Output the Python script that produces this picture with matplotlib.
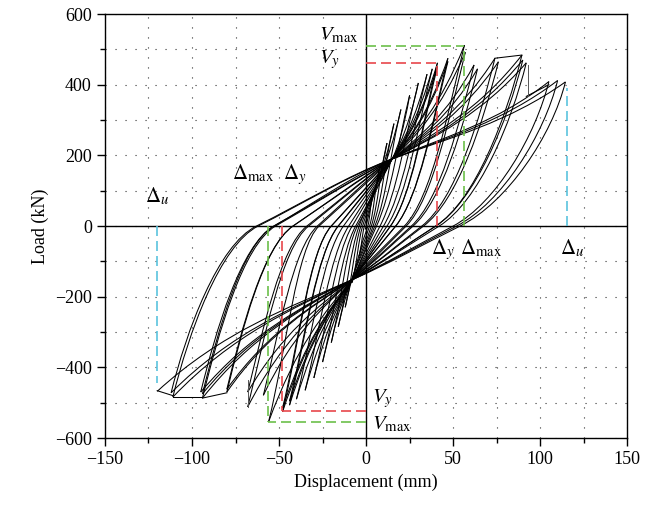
import numpy as np
import matplotlib
matplotlib.use("Agg")
import matplotlib.pyplot as plt
from matplotlib.path import Path
from matplotlib.patches import PathPatch
from matplotlib.ticker import MultipleLocator

plt.rcParams["font.family"] = ["Liberation Serif", "DejaVu Serif"]
plt.rcParams["mathtext.fontset"] = "stix"
plt.rcParams["font.size"] = 13

# one entry per loading cycle: positive peak, negative peak (mm, kN)
pos_disp = [4, 8, 12, 16, 20, 25, 30, 35, 38, 41, 41, 47, 47, 56.5, 57, 62, 64, 74, 76, 89.5, 90, 92, 105, 110, 114.5]
pos_load = [95, 170, 235, 290, 330, 370, 405, 430, 445, 462, 452, 475, 466, 512, 492, 456, 445, 475, 465, 484, 470, 462, 409, 412, 408]
neg_disp = [-4, -8, -12, -16, -20, -25, -30, -35, -40, -44, -44, -48, -48, -56, -59, -68, -68, -80, -80, -94, -94, -95, -111, -112, -120]
neg_load = [-85, -160, -230, -285, -330, -385, -430, -465, -490, -507, -496, -526, -515, -554, -479, -512, -470, -470, -462, -487, -475, -470, -484, -472, -468]
# displacement where each unloading branch crosses zero load
desc_zero = [1, 2, 3, 4, 5, 6, 8, 10, 12, 14, 14, 17, 17, 22, 23, 26, 27, 32, 33, 40, 40, 42, 50, 52, 54]
asc_zero = [-1, -2, -3, -4, -5, -6, -8, -10, -13, -16, -16, -20, -20, -27, -28, -33, -34, -42, -42, -52, -53, -53, -62, -63, -68]

# pinching points where the reloading branches converge
pinch_up = (15, 190)
pinch_lo = (-8, -152)

# sudden load drops seen in the record
drop_x = [93, -68]
drop_from = [456, -512]
drop_to = [367, -437]

# short stretches running along the envelope between successive peaks
env_x0 = [74, 92, -80, -94, -111]
env_y0 = [475, 367, -472, -484, -480]
env_x1 = [89.5, 105, -94, -111, -120]
env_y1 = [484, 400, -487, -484, -466]

# characteristic points
vy_pos, vmax_pos, du_pos = (41, 462), (56.5, 510), (115.5, 390)
vy_neg, vmax_neg, du_neg = (-48.5, -524), (-56.3, -554), (-120, -443)

K_UNLOAD = 20.0


def slope(a, b):
    return (b[1] - a[1]) / (b[0] - a[0])


def branch_path(S, Z, P, E):
    """Unloading arc S->Z, then reloading through the pinch P (if any) to E."""
    nxt = P if P is not None else E
    kz = slope(Z, nxt)
    dy = Z[1] - S[1]
    verts = [S, (S[0] + 0.37 * dy / K_UNLOAD, S[1] + 0.37 * dy)]
    hx = 0.45 * (Z[0] - S[0])
    verts += [(Z[0] - hx, Z[1] - hx * kz), Z]
    prev, kprev = Z, kz
    if P is not None:
        kp = 0.8 * slope(Z, E)
        h = (P[0] - Z[0]) / 3
        verts += [(Z[0] + h, Z[1] + h * kz), (P[0] - h, P[1] - h * kp), P]
        prev, kprev = P, kp
    ke = 1.6 * slope(prev, E)
    h = (E[0] - prev[0]) / 3
    verts += [(prev[0] + h, prev[1] + h * kprev), (E[0] - h, E[1] - h * ke), E]
    codes = [Path.MOVETO] + [Path.CURVE4] * (len(verts) - 1)
    return Path(verts, codes)


fig = plt.figure(figsize=(6.52, 5.12), dpi=100)
ax = fig.add_axes([0.161, 0.1445, 0.801, 0.828])

loop_style = dict(fill=False, ec="black", lw=0.75, zorder=2)
prev_neg, prev_zero = (-0.5, -10), 0.0
for i in range(len(pos_disp)):
    pos = (pos_disp[i], pos_load[i])
    neg = (neg_disp[i], neg_load[i])

    # reloading towards the positive peak
    Z = (prev_zero, 0)
    P = pinch_up if (Z[0] < pinch_up[0] and pos[0] > pinch_up[0] + 8) else None
    ax.add_patch(PathPatch(branch_path(prev_neg, Z, P, pos), **loop_style))

    # unloading towards the negative peak
    Z = (desc_zero[i], 0)
    P = pinch_lo if (Z[0] > pinch_lo[0] and neg[0] < pinch_lo[0] - 8) else None
    ax.add_patch(PathPatch(branch_path(pos, Z, P, neg), **loop_style))

    prev_neg, prev_zero = neg, asc_zero[i]

for x0, y0, x1, y1 in zip(env_x0, env_y0, env_x1, env_y1):
    ax.plot([x0, x1], [y0, y1], color="black", lw=0.75, zorder=2)
for x, a, b in zip(drop_x, drop_from, drop_to):
    ax.plot([x, x], [a, b], color="#555555", lw=0.7, zorder=2)

dash = dict(lw=1.2, dashes=(6, 3), zorder=3)
red, green, cyan = "#e8474c", "#6cc04a", "#5bc4de"
for (x, y), c in [(vy_pos, red), (vmax_pos, green), (vy_neg, red), (vmax_neg, green)]:
    ax.plot([x, x], [0, y], color=c, **dash)
    ax.plot([0, x], [y, y], color=c, **dash)
for (x, y) in [du_pos, du_neg]:
    ax.plot([x, x], [0, y], color=cyan, **dash)

ax.axhline(0, color="black", lw=1.0, zorder=1)
ax.axvline(0, color="black", lw=1.0, zorder=1)

ax.set_xlim(-150, 150)
ax.set_ylim(-600, 600)
ax.xaxis.set_major_locator(MultipleLocator(50))
ax.xaxis.set_minor_locator(MultipleLocator(25))
ax.yaxis.set_major_locator(MultipleLocator(200))
ax.yaxis.set_minor_locator(MultipleLocator(100))
ax.grid(which="both", color="#333333", lw=0.8, linestyle=(0, (1, 8)))
ax.set_axisbelow(True)
ax.tick_params(which="major", direction="out", length=6, width=1)
ax.tick_params(which="minor", direction="out", length=3.5, width=1)
for s in ax.spines.values():
    s.set_linewidth(1.0)

ax.set_xlabel("Displacement (mm)", fontsize=13)
ax.set_ylabel("Load (kN)", fontsize=13)

ts = 15
ax.text(-27, 527, r"$V_{\max}$", fontsize=ts, ha="left", va="baseline")
ax.text(-27, 462, r"$V_y$", fontsize=ts, ha="left", va="baseline")
ax.text(3.5, -499, r"$V_y$", fontsize=ts, ha="left", va="baseline")
ax.text(3.5, -575, r"$V_{\max}$", fontsize=ts, ha="left", va="baseline")
ax.text(-77, 131, r"$\Delta_{\max}$", fontsize=ts, ha="left", va="baseline")
ax.text(-48, 131, r"$\Delta_y$", fontsize=ts, ha="left", va="baseline")
ax.text(-127, 66, r"$\Delta_u$", fontsize=ts, ha="left", va="baseline")
ax.text(37, -81, r"$\Delta_y$", fontsize=ts, ha="left", va="baseline")
ax.text(54, -81, r"$\Delta_{\max}$", fontsize=ts, ha="left", va="baseline")
ax.text(111.5, -81, r"$\Delta_u$", fontsize=ts, ha="left", va="baseline")

fig.savefig("out.png", dpi=100)
